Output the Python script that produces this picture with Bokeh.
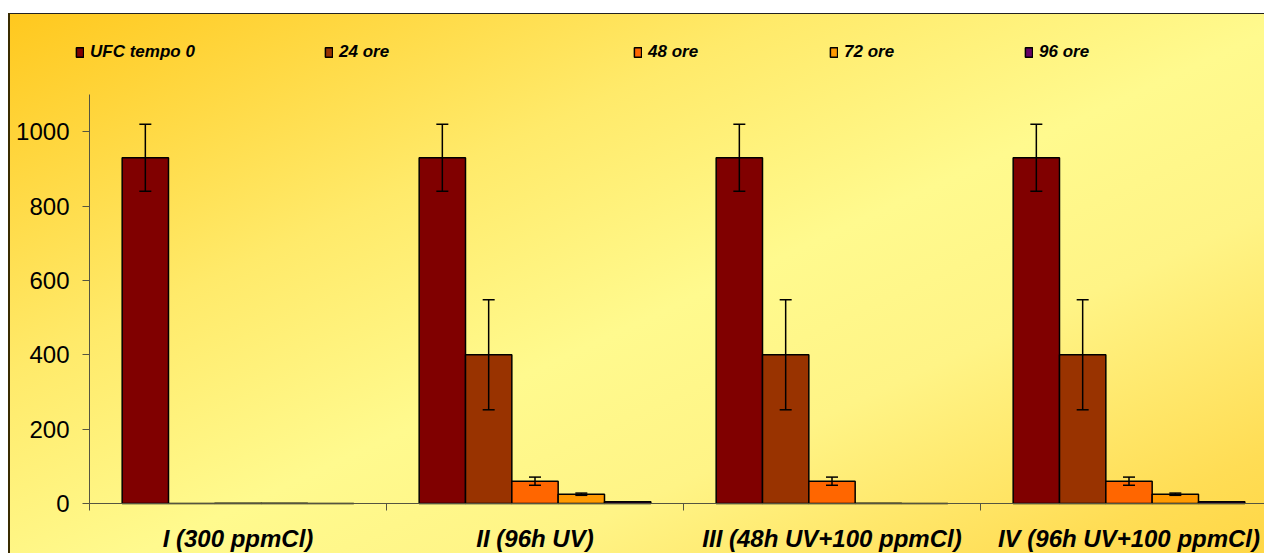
from bokeh.plotting import figure
from bokeh.models import (Range1d, FixedTicker, Whisker, ColumnDataSource, Legend,
                          LegendItem, TeeHead, LinearAxis)
from bokeh.embed import file_html
from bokeh.resources import INLINE

groups = ["I (300 ppmCl)", "II (96h UV)", "III (48h UV+100 ppmCl)", "IV (96h UV+100 ppmCl)"]
series = ["UFC tempo 0", "24 ore", "48 ore", "72 ore", "96 ore"]
colors = ["#800000", "#993300", "#FF6600", "#FF9900", "#660066"]

ufc_t0 = [930, 930, 930, 930]
ufc_t0_err = [90, 90, 90, 90]
ore_24 = [0, 400, 400, 400]
ore_24_err = [0, 148, 148, 148]
ore_48 = [1, 60, 60, 60]
ore_48_err = [0, 11, 11, 11]
ore_72 = [0.5, 25, 0.5, 25]
ore_72_err = [0, 3, 0, 3]
ore_96 = [0, 5, 0, 5]
ore_96_err = [0, 0, 0, 0]

values = [ufc_t0, ore_24, ore_48, ore_72, ore_96]
errors = [ufc_t0_err, ore_24_err, ore_48_err, ore_72_err, ore_96_err]
y_ticks = [0, 200, 400, 600, 800, 1000]
y_max = 1100

W, H = 1264, 553
AXIS_X_PX = 89       # pixel column of the y axis
ZERO_Y_PX = 503      # pixel row of y = 0
TOP_Y_PX = 94        # pixel row of y = y_max
GROUP_PX = 297
px_per_unit = (ZERO_Y_PX - TOP_Y_PX) / y_max
x_start = -AXIS_X_PX / GROUP_PX
x_end = (W - AXIS_X_PX) / GROUP_PX
y_start = -(H - ZERO_Y_PX) / px_per_unit
y_end = ZERO_Y_PX / px_per_unit
BAR_W = 0.156

p = figure(width=W, height=H, output_backend="svg", toolbar_location=None,
           x_range=Range1d(x_start, x_end), y_range=Range1d(y_start, y_end),
           x_axis_type=None, y_axis_type=None,
           min_border_left=0, min_border_top=0, min_border_bottom=0,
           min_border_right=0, background_fill_color=None, border_fill_color=None,
           outline_line_color=None)
p.xgrid.visible = False
p.ygrid.visible = False

bg = ("linear-gradient(#3a2c00,#3a2c00) 8px 13px / 2px 700px no-repeat, "
      "linear-gradient(#222,#222) 8px 13px / 1400px 1px no-repeat, "
      "linear-gradient(to bottom right, #FFC81E 0%, #FFEA6A 30%, #FFFA8E 50%, #FFF486 65%, #FFDD55 85%, #FFD23A 100%) 8px 13px / 1300px 600px no-repeat, "
      "#ffffff")
p.styles = {"background": bg}

FONT = "Liberation Sans"
renderers = []
for k, (name, vals, col) in enumerate(zip(series, values, colors)):
    xs = [i + 0.5 + (k - 2) * BAR_W for i in range(len(groups))]
    src = ColumnDataSource(dict(x=xs, top=vals))
    r = p.vbar(x="x", top="top", width=BAR_W, bottom=0, source=src,
               fill_color=col, line_color="black", line_width=1.5)
    renderers.append(r)

for k, (vals, errs) in enumerate(zip(values, errors)):
    xs, lo, hi = [], [], []
    for i in range(len(groups)):
        if errs[i] > 0:
            xs.append(i + 0.5 + (k - 2) * BAR_W)
            lo.append(vals[i] - errs[i])
            hi.append(vals[i] + errs[i])
    if xs:
        esrc = ColumnDataSource(dict(x=xs, lower=lo, upper=hi))
        w = Whisker(base="x", lower="lower", upper="upper", source=esrc,
                    line_color="black", line_width=1.5, level="overlay",
                    upper_head=TeeHead(size=12, line_color="black", line_width=1.5),
                    lower_head=TeeHead(size=12, line_color="black", line_width=1.5))
        p.add_layout(w)

AXIS_COL = "#555540"
centers = [i + 0.5 for i in range(len(groups))]
bounds = [i for i in range(len(groups) + 1)]
xa = LinearAxis(fixed_location=0, bounds=(0, len(groups)),
                ticker=FixedTicker(ticks=centers, minor_ticks=bounds))
xa.major_label_overrides = {c: g for c, g in zip(centers, groups)}
xa.major_tick_line_color = None
xa.major_tick_out = 0
xa.major_tick_in = 0
xa.minor_tick_out = 7
xa.minor_tick_in = 0
xa.minor_tick_line_color = AXIS_COL
xa.axis_line_color = AXIS_COL
xa.major_label_standoff = 14
xa.major_label_text_font = FONT
xa.major_label_text_font_size = "24px"
xa.major_label_text_font_style = "bold italic"
xa.major_label_text_color = "black"
p.add_layout(xa, "below")

ya = LinearAxis(fixed_location=0, bounds=(0, y_max),
                ticker=FixedTicker(ticks=y_ticks, minor_ticks=[]))
ya.major_tick_out = 7
ya.major_tick_in = 0
ya.major_tick_line_color = AXIS_COL
ya.axis_line_color = AXIS_COL
ya.major_label_standoff = 13
ya.major_label_text_font = FONT
ya.major_label_text_font_size = "24px"
ya.major_label_text_color = "black"
p.add_layout(ya, "left")

legend_x = [75, 324, 633, 829, 1024]
for name, r, lx in zip(series, renderers, legend_x):
    leg = Legend(items=[LegendItem(label=name, renderers=[r])],
                 location=(lx, H - 62),
                 orientation="horizontal", background_fill_alpha=0,
                 border_line_color=None, padding=0, margin=0, spacing=0,
                 glyph_width=9, glyph_height=12, label_standoff=6, label_height=12,
                 label_text_font=FONT, label_text_font_size="17px",
                 label_text_font_style="bold italic", label_text_color="black")
    p.add_layout(leg)

open("out.html", "w").write(file_html(p, INLINE))
